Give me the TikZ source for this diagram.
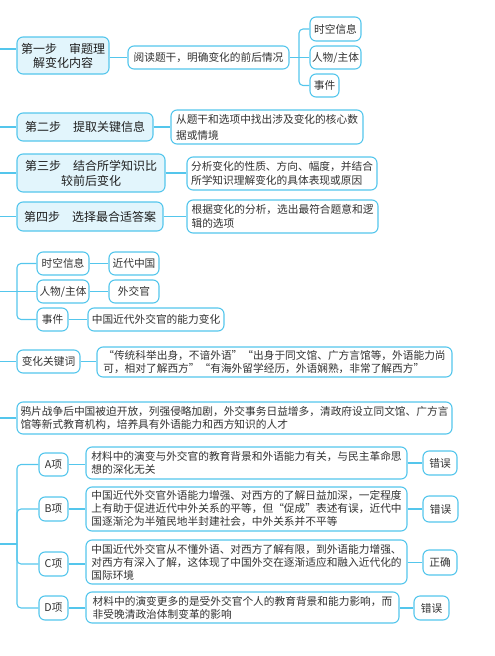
\documentclass[tikz,border=0pt]{standalone}
\usepackage{fontspec}
\setmainfont{Noto Sans CJK SC}
\definecolor{lnc}{RGB}{84,198,236}
\definecolor{stepfill}{RGB}{226,245,252}
\definecolor{txtgray}{RGB}{50,50,50}
\newcommand{\mybox}[7]{%
  \pgfmathsetmacro\myW{#4-#2}\pgfmathsetmacro\myH{#5-#3}%
  \node[#6, minimum width=\myW pt, minimum height=\myH pt] (#1) at ({(#2+#4)/2},{(#3+#5)/2}) {#7};}
\tikzset{
  base/.style={draw=lnc, line width=1.1pt, rounded corners=6pt, inner sep=1pt},
  stepbox/.style={base, fill=stepfill, align=center, text=black!88, font=\fontsize{12}{14}\selectfont},
  stepboxb/.style={stepbox, font=\fontsize{12}{15}\selectfont},
  leaf/.style={base, fill=white, align=center, text=txtgray, font=\fontsize{10.7}{13}\selectfont},
  leafl/.style={leaf, align=left},
  leafw/.style={leaf, align=left, font=\fontsize{10.7}{16}\selectfont},
  leafm/.style={leaf, align=left, font=\fontsize{10.7}{14}\selectfont},
  link/.style={draw=lnc, line width=1.1pt},
  brk/.style={link, rounded corners=4pt}
}
\begin{document}
\begin{tikzpicture}[x=1pt,y=-1pt]
\useasboundingbox (0,0) rectangle (495,656);
% ---- step 1
\mybox{s1}{17}{37}{109}{74}{stepbox}{第一步　审题理\\解变化内容}
\mybox{r1}{128}{46}{289}{69}{leaf}{阅读题干，明确变化的前后情况}
\mybox{t1}{310}{17}{361}{41}{leaf}{时空信息}
\mybox{t2}{310}{46}{361}{69}{leaf}{人物/主体}
\mybox{t3}{310}{74}{339}{97}{leaf}{事件}
\coordinate (l1) at (0,49);
\draw[link] (l1) -- (l1 -| s1.west);
\draw[link] (r1.west -| s1.east) -- (r1.west);
\coordinate (j1) at (299,57.5);
\draw[link] (r1.east) -- (j1);
\draw[brk] (j1) |- (t1.west);
\draw[brk] (j1) |- (t3.west);
\draw[link] (j1) -- (t2.west);
% ---- step 2-4
\mybox{s2}{17}{113}{153}{141}{stepbox}{第二步　提取关键信息}
\mybox{r2}{171}{110}{363}{144}{leafw}{从题干和选项中找出涉及变化的核心数\\据或情境}
\mybox{s3}{17}{154}{165}{192}{stepboxb}{第三步　结合所学知识比\\较前后变化}
\mybox{r3}{187}{157}{377}{190}{leafm}{分析变化的性质、方向、幅度，并结合\\所学知识理解变化的具体表现或原因}
\mybox{s4}{17}{202}{163}{231}{stepbox}{第四步　选择最合适答案}
\mybox{r4}{187}{200}{378}{233}{leafm}{根据变化的分析，选出最符合题意和逻\\辑的选项}
\coordinate (l2) at (0,127);
\coordinate (l3) at (0,173);
\coordinate (l4) at (0,216.5);
\draw[link] (l2) -- (l2 -| s2.west);
\draw[link] (l3) -- (l3 -| s3.west);
\draw[link] (l4) -- (l4 -| s4.west);
\draw[link] (s2.east) -- (s2.east -| r2.west);
\draw[link] (s3.east) -- (s3.east -| r3.west);
\draw[link] (s4.east) -- (s4.east -| r4.west);
% ---- middle group
\mybox{m1}{37}{252}{89}{275}{leaf}{时空信息}
\mybox{m1r}{109}{252}{159}{275}{leaf}{近代中国}
\mybox{m2}{37}{280}{89}{303}{leaf}{人物/主体}
\mybox{m2r}{109}{280}{159}{303}{leaf}{外交官}
\mybox{m3}{37}{308}{68}{331}{leaf}{事件}
\mybox{m3r}{88}{308}{224}{331}{leaf}{中国近代外交官的能力变化}
\coordinate (l5) at (0,291.5);
\coordinate (j5) at (17,291.5);
\draw[link] (l5) -- (j5);
\draw[brk] (j5) |- (m1.west);
\draw[brk] (j5) |- (m3.west);
\draw[link] (j5) -- (m2.west);
\draw[link] (m1.east) -- (m1r.west);
\draw[link] (m2.east) -- (m2r.west);
\draw[link] (m3.east) -- (m3r.west);
% ---- key words
\mybox{k1}{17}{350}{80}{373}{leaf}{变化关键词}
\mybox{k1r}{97}{347}{452}{377}{leafl}{“传统科举出身，不谙外语”“出身于同文馆、广方言馆等，外语能力尚\\可，相对了解西方”“有海外留学经历，外语娴熟，非常了解西方”}
\coordinate (l6) at (0,361.5);
\draw[link] (l6) -- (l6 -| k1.west);
\draw[link] (k1.east) -- (k1.east -| k1r.west);
% ---- background
\mybox{b1}{17}{402}{452}{434}{leafl}{鸦片战争后中国被迫开放，列强侵略加剧，外交事务日益增多，清政府设立同文馆、广方言\\馆等新式教育机构，培养具有外语能力和西方知识的人才}
\coordinate (l7) at (0,418);
\draw[link] (l7) -- (l7 -| b1.west);
% ---- options
\mybox{oa}{39}{453}{68}{476}{leaf}{A项}
\mybox{ta}{86}{447}{407}{479}{leafl}{材料中的演变与外交官的教育背景和外语能力有关，与民主革命思\\想的深化无关}
\mybox{ra}{423}{451}{457}{475}{leaf}{错误}
\mybox{ob}{39}{497}{68}{521}{leaf}{B项}
\mybox{tb}{86}{487}{407}{531}{leafl}{中国近代外交官外语能力增强、对西方的了解日益加深，一定程度\\上有助于促进近代中外关系的平等，但“促成”表述有误，近代中\\国逐渐沦为半殖民地半封建社会，中外关系并不平等}
\mybox{rb}{423}{496}{458}{522}{leaf}{错误}
\mybox{oc}{39}{552}{68}{576}{leaf}{C项}
\mybox{tc}{86}{540}{407}{584}{leafl}{中国近代外交官从不懂外语、对西方了解有限，到外语能力增强、\\对西方有深入了解，这体现了中国外交在逐渐适应和融入近代化的\\国际环境}
\mybox{rc}{423}{550}{457}{575}{leaf}{正确}
\mybox{od}{39}{596}{68}{620}{leaf}{D项}
\mybox{td}{86}{592}{399}{623}{leafl}{材料中的演变更多的是受外交官个人的教育背景和能力影响，而\\非受晚清政治体制变革的影响}
\mybox{rd}{414}{596}{449}{620}{leaf}{错误}
\coordinate (l8) at (0,544);
\coordinate (j8) at (17,544);
\draw[link] (l8) -- (j8);
\draw[brk] (j8) |- (oa.west);
\draw[brk] (j8) |- (ob.west);
\draw[brk] (j8) |- (oc.west);
\draw[brk] (j8) |- (od.west);
\draw[link] (oa.east) -- (oa.east -| ta.west);
\draw[link] (ob.east) -- (ob.east -| tb.west);
\draw[link] (oc.east) -- (oc.east -| tc.west);
\draw[link] (od.east) -- (od.east -| td.west);
\draw[link] (ta.east |- ra.west) -- (ra.west);
\draw[link] (tb.east |- rb.west) -- (rb.west);
\draw[link] (tc.east |- rc.west) -- (rc.west);
\draw[link] (td.east |- rd.west) -- (rd.west);
\end{tikzpicture}
\end{document}
